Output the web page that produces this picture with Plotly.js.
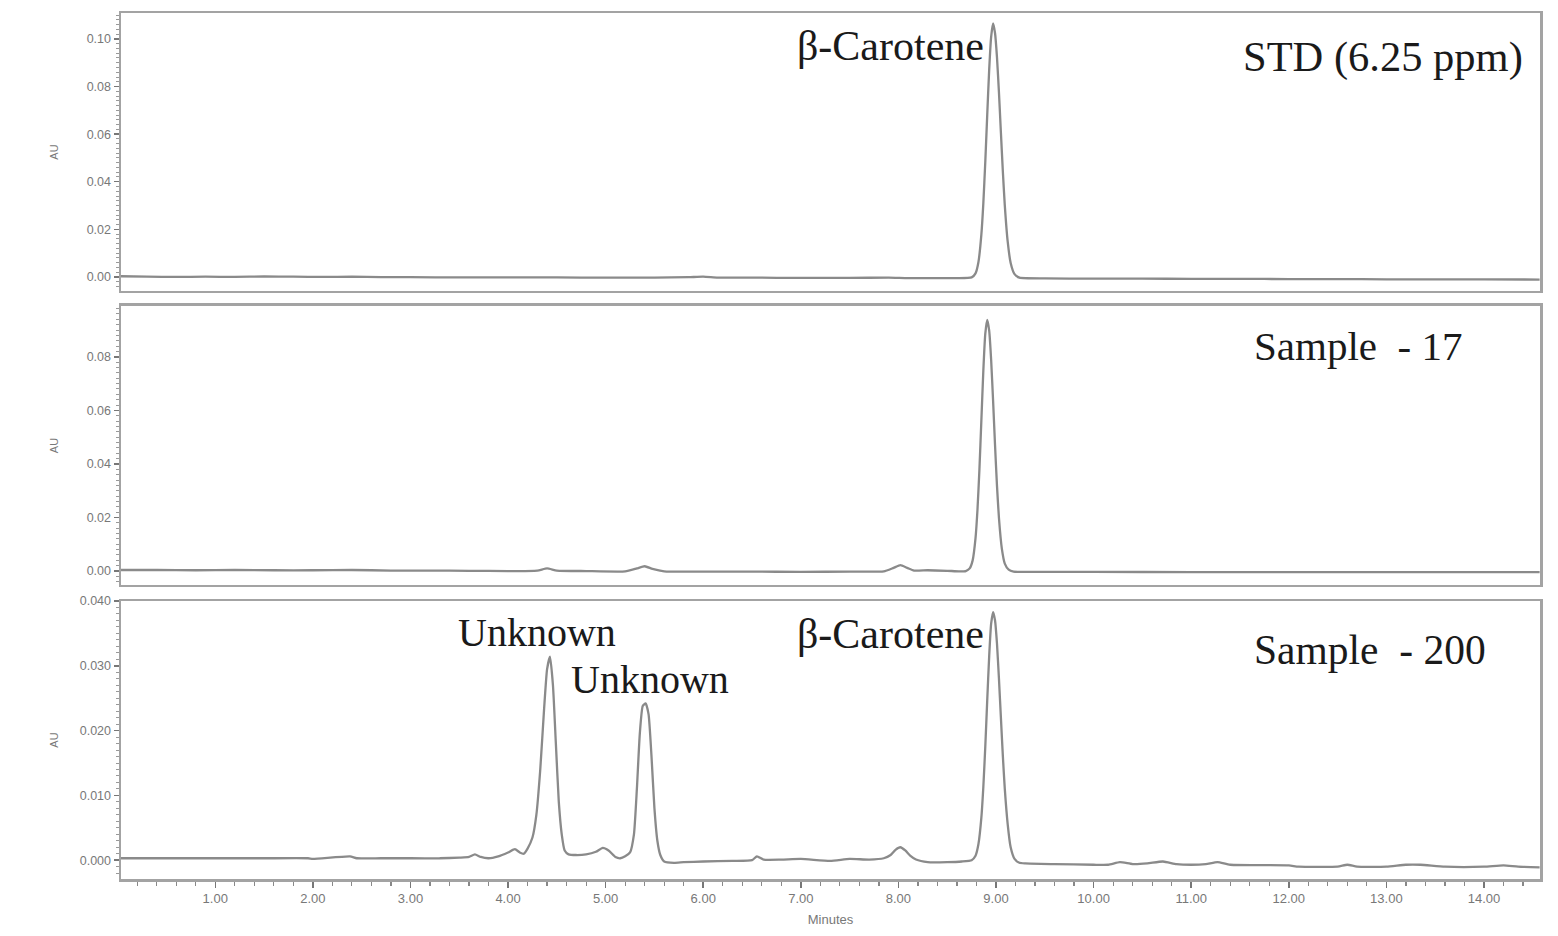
<!DOCTYPE html>
<html>
<head>
<meta charset="utf-8">
<script src="https://cdn.plot.ly/plotly-3.0.1.min.js"></script>
<style>
  html, body { margin: 0; padding: 0; background: #ffffff; }
  #chart { width: 1558px; height: 936px; }
</style>
</head>
<body>
<div id="chart"></div>
<script>
// ---- Data (time in minutes, absorbance in AU) ----
var timeStd = [0.03, 0.3, 0.6, 0.9, 1.2, 1.5, 1.8, 2.1, 2.4, 2.7, 3.0, 3.5, 4.0, 4.5, 5.0, 5.5, 5.85, 6.0, 6.15, 6.5, 7.0, 7.5, 7.9, 8.1, 8.4, 8.6,
  8.75, 8.79, 8.82, 8.85, 8.87, 8.89, 8.91, 8.93, 8.95, 8.97, 8.99, 9.01, 9.03, 9.05, 9.07, 9.09, 9.12, 9.15, 9.19, 9.24,
  9.5, 10.0, 10.5, 11.0, 11.5, 12.0, 12.5, 13.0, 13.5, 14.0, 14.57];
var auStd = [0.0003, 0.0001, 0.0000, 0.0001, 0.0000, 0.0002, 0.0001, 0.0000, 0.0001, -0.0001, -0.0001, -0.0002, -0.0002, -0.0002, -0.0003, -0.0003, -0.0001, 0.0001, -0.0003, -0.0003, -0.0004, -0.0004, -0.0003, -0.0005, -0.0005, -0.0005,
  -0.0002, 0.0015, 0.0063, 0.0179, 0.0309, 0.0483, 0.0681, 0.0871, 0.1009, 0.1065, 0.1024, 0.0922, 0.0775, 0.0607, 0.0443, 0.0301, 0.0147, 0.0059, 0.0012, -0.0003,
  -0.0006, -0.0007, -0.0007, -0.0008, -0.0008, -0.0009, -0.0009, -0.0010, -0.0010, -0.0010, -0.0011];

var timeS17 = [0.03, 0.4, 0.8, 1.2, 1.6, 2.0, 2.4, 2.8, 3.2, 3.6, 4.0, 4.3, 4.40, 4.5, 4.8, 5.2, 5.32, 5.40, 5.48, 5.6, 6.0, 6.5, 7.0, 7.5, 7.85, 7.95, 8.02, 8.09, 8.16, 8.3, 8.5, 8.62,
  8.69, 8.73, 8.76, 8.79, 8.81, 8.83, 8.85, 8.87, 8.89, 8.91, 8.93, 8.95, 8.97, 8.99, 9.01, 9.03, 9.06, 9.09, 9.13, 9.18,
  9.3, 10.0, 11.0, 12.0, 13.0, 14.0, 14.57];
var auS17 = [0.0004, 0.0004, 0.0003, 0.0004, 0.0003, 0.0003, 0.0004, 0.0002, 0.0002, 0.0001, 0.0000, 0.0002, 0.0010, 0.0002, 0.0000, -0.0001, 0.0010, 0.0018, 0.0008, -0.0001, -0.0002, -0.0002, -0.0003, -0.0002, -0.0001, 0.0012, 0.0022, 0.0012, 0.0002, 0.0003, 0.0001, -0.0001,
  0.0000, 0.0010, 0.0039, 0.0123, 0.0229, 0.0380, 0.0564, 0.0748, 0.0886, 0.0938, 0.0898, 0.0789, 0.0636, 0.0470, 0.0318, 0.0198, 0.0083, 0.0028, 0.0005, -0.0002,
  -0.0003, -0.0003, -0.0004, -0.0004, -0.0004, -0.0004, -0.0004];

var timeS200 = [0.03, 0.5, 1.0, 1.5, 1.95, 2.0, 2.38, 2.45, 2.7, 3.0, 3.3,
  3.50, 3.60, 3.66, 3.72, 3.80, 3.90, 4.00, 4.07, 4.12, 4.16, 4.20, 4.25, 4.29, 4.33, 4.37, 4.40, 4.43, 4.46, 4.49, 4.52, 4.55, 4.58, 4.62, 4.70, 4.80, 4.90, 4.97, 5.03, 5.10, 5.15, 5.20, 5.25, 5.29, 5.32, 5.35, 5.38, 5.41, 5.44, 5.47, 5.50, 5.53, 5.56, 5.60,
  5.70, 5.80, 6.0, 6.3, 6.5, 6.55, 6.62, 6.8, 7.0, 7.3, 7.5, 7.7,
  7.85, 7.92, 7.97, 8.02, 8.07, 8.12, 8.18, 8.30, 8.50, 8.65,
  8.75, 8.79, 8.82, 8.85, 8.87, 8.89, 8.91, 8.93, 8.95, 8.97, 8.99, 9.01, 9.03, 9.05, 9.07, 9.09, 9.12, 9.15, 9.19, 9.24,
  9.3, 9.6, 10.0, 10.15, 10.27, 10.4, 10.55, 10.71, 10.85, 11.0, 11.15, 11.27, 11.4, 12.0, 12.1, 12.5, 12.6, 12.7, 13.0, 13.2, 13.35, 13.6, 14.0, 14.2, 14.35, 14.57];
var auS200 = [0.0003, 0.0003, 0.0003, 0.0003, 0.0003, 0.0002, 0.0006, 0.0003, 0.0003, 0.0003, 0.0003,
  0.0004, 0.0005, 0.0009, 0.0005, 0.0003, 0.0006, 0.0012, 0.0017, 0.0012, 0.0010, 0.0018, 0.0035, 0.0070, 0.0140, 0.0235, 0.0295, 0.0314, 0.0270, 0.0180, 0.0090, 0.0040, 0.0015, 0.0009, 0.0008, 0.0009, 0.0013, 0.0019, 0.0015, 0.0005, 0.0003, 0.0006, 0.0012, 0.0040, 0.0110, 0.0195, 0.0238, 0.0242, 0.0225, 0.0160, 0.0080, 0.0030, 0.0008, -0.0002,
  -0.0004, -0.0003, -0.0002, -0.0001, 0.0000, 0.0006, 0.0001, 0.0001, 0.0002, -0.0001, 0.0002, 0.0001,
  0.0003, 0.0008, 0.0016, 0.0020, 0.0015, 0.0007, 0.0001, -0.0003, -0.0003, -0.0002,
  0.0000, 0.0007, 0.0025, 0.0066, 0.0113, 0.0175, 0.0247, 0.0315, 0.0365, 0.0383, 0.0370, 0.0334, 0.0280, 0.0220, 0.0161, 0.0110, 0.0055, 0.0020, 0.0002, -0.0004,
  -0.0005, -0.0006, -0.0007, -0.0007, -0.0003, -0.0006, -0.0005, -0.0002, -0.0006, -0.0007, -0.0006, -0.0003, -0.0007, -0.0008, -0.0010, -0.0010, -0.0007, -0.0010, -0.0010, -0.0007, -0.0007, -0.0010, -0.0010, -0.0008, -0.0010, -0.0011];

var panelLabels = ["STD (6.25 ppm)", "Sample\u00a0\u00a0- 17", "Sample\u00a0\u00a0- 200"];
var peakLabels = ["\u03b2-Carotene", "Unknown", "Unknown", "\u03b2-Carotene"];

// ---- Styling ----
var frameColor = "#a3a3a3";
var traceColor = "#8a8a8a";
var sans = "Liberation Sans, Arial, sans-serif";
var tickFont = {family: sans, size: 12.5, color: "#787878"};
var xRange = [0.034, 14.574];

function serif(size) {
  return {family: "Liberation Serif, Times New Roman, serif", size: size, color: "#1a1a1a"};
}

function trace(x, y, xa, ya) {
  return {x: x, y: y, xaxis: xa, yaxis: ya, type: "scatter", mode: "lines",
          line: {color: traceColor, width: 2.3, shape: "spline", smoothing: 0.5},
          hoverinfo: "skip", showlegend: false};
}

var data = [
  trace(timeStd, auStd, "x", "y"),
  trace(timeS17, auS17, "x2", "y2"),
  trace(timeS200, auS200, "x3", "y3")
];

function xAxis(anchor, showLabels) {
  var ax = {anchor: anchor, domain: [0, 1], range: xRange, showgrid: false, zeroline: false,
    showline: true, linecolor: frameColor, linewidth: 2.5, mirror: true,
    dtick: 1, tick0: 0, tickformat: ".2f", tickfont: tickFont};
  if (showLabels) {
    ax.ticks = "outside"; ax.ticklen = 6; ax.tickcolor = "#777"; ax.tickwidth = 1.5;
    ax.minor = {dtick: 0.2, tick0: 0, ticks: "outside", ticklen: 4, tickcolor: "#888", tickwidth: 1.2};
    ax.title = {text: "Minutes", font: {family: sans, size: 13, color: "#787878"}, standoff: 10};
    ax.tickfont = {family: sans, size: 13, color: "#787878"};
  } else {
    ax.showticklabels = false; ax.ticks = "";
  }
  return ax;
}

function yAxis(anchor, domain, range, dtick, fmt, minorD, standoff) {
  return {anchor: anchor, domain: domain, range: range, showgrid: false, zeroline: false,
    showline: true, linecolor: frameColor, linewidth: 2.5, mirror: true,
    dtick: dtick, tick0: 0, tickformat: fmt, tickfont: tickFont,
    ticks: "outside", ticklen: 5, tickcolor: "#777", tickwidth: 1.5,
    minor: {dtick: minorD, tick0: 0, ticks: "outside", ticklen: 3, tickcolor: "#999", tickwidth: 1},
    title: {text: "AU", font: {family: sans, size: 11, color: "#787878"}, standoff: standoff}};
}

function ann(text, x, y, size) {
  return {text: text, xref: "paper", yref: "paper", x: x, y: y, xanchor: "center", yanchor: "middle",
          showarrow: false, font: serif(size)};
}

var layout = {
  width: 1558, height: 936,
  margin: {l: 121, r: 18, t: 13, b: 57},
  paper_bgcolor: "#ffffff", plot_bgcolor: "#ffffff",
  showlegend: false,
  xaxis: xAxis("y", false),
  xaxis2: xAxis("y2", false),
  xaxis3: xAxis("y3", true),
  yaxis: yAxis("x", [0.679, 1.0], [-0.0059, 0.1109], 0.02, ".2f", 0.002, 26),
  yaxis2: yAxis("x2", [0.3395, 0.6617], [-0.0052, 0.099], 0.02, ".2f", 0.002, 26),
  yaxis3: yAxis("x3", [0.0, 0.321], [-0.0029, 0.040], 0.01, ".3f", 0.001, 19),
  annotations: [
    ann(peakLabels[0], 0.5426, 0.9619, 42),
    ann(panelLabels[0], 0.8894, 0.9492, 42.5),
    ann(panelLabels[1], 0.8717, 0.6155, 41),
    ann(peakLabels[1], 0.2932, 0.2852, 40),
    ann(peakLabels[2], 0.3728, 0.2298, 40),
    ann(peakLabels[3], 0.5426, 0.2829, 42),
    ann(panelLabels[2], 0.8802, 0.2644, 41.5)
  ]
};

Plotly.newPlot("chart", data, layout, {staticPlot: true, displayModeBar: false});
</script>
</body>
</html>
